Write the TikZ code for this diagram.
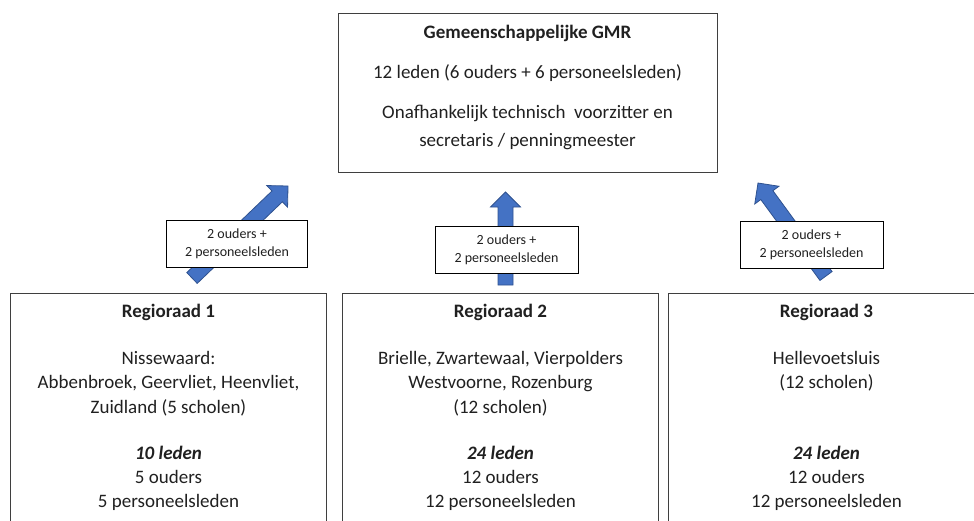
\documentclass[tikz,border=0pt]{standalone}
\usepackage{fontspec}
\setmainfont{Carlito}
\usetikzlibrary{calc,positioning}

\definecolor{randgrijs}{HTML}{3F3F3F}
\definecolor{tekstgrijs}{HTML}{202020}
\definecolor{pijlblauw}{HTML}{4472C4}
\definecolor{pijlrand}{HTML}{2F528F}

\newcommand{\raadfont}{\fontsize{19}{24.3}\selectfont}
\newcommand{\gmrfont}{\fontsize{19}{28}\selectfont}
\newcommand{\afvfont}{\fontsize{14}{18}\selectfont}

\begin{document}
\begin{tikzpicture}[x=1pt,y=-1pt,
  vak/.style={draw=randgrijs,line width=1pt,anchor=north,inner sep=0pt},
  raad/.style={vak,minimum width=316pt,minimum height=260pt},
  tekstblok/.style={align=center,anchor=north,inner sep=0pt,text=tekstgrijs},
  afvaardiging/.style={draw=black,line width=0.8pt,fill=white,font=\afvfont,
    align=center,minimum width=143pt,minimum height=47pt,inner sep=0pt,text=tekstgrijs},
  pijl/.style={draw=pijlrand,fill=pijlblauw,line width=0.8pt,line join=miter}]
\useasboundingbox (0,0) rectangle (974,520);
\clip (0,0) rectangle (974,520);

%: \blokpijl{<staart>}{<punt>}
\newcommand{\blokpijl}[2]{%
  \coordinate (kop) at ($(#2)!15pt!(#1)$);
  \filldraw[pijl] ($(#1)!7.5pt!-90:(#2)$) -- ($(kop)!7.5pt!90:(#1)$)
   -- ($(kop)!15pt!90:(#1)$) -- (#2) -- ($(kop)!15pt!-90:(#1)$)
   -- ($(kop)!7.5pt!-90:(#1)$) -- ($(#1)!7.5pt!90:(#2)$) -- cycle;}

% bovenste vak
\node[vak,minimum width=379pt,minimum height=159pt] (gmr) at (527.5,13) {};
\node[tekstblok,font=\gmrfont,below=11.5pt of gmr.north] (gmrtekst)
  {\textbf{Gemeenschappelijke GMR}\\[12pt]
   12 leden (6 ouders + 6 personeelsleden)\\[12pt]
   Onafhankelijk technisch~ voorzitter en\\
   secretaris / penningmeester};

% regioraden
\node[raad] (regio1) at (168.5,293) {};
\node[raad] (regio2) at (500.5,293) {};
\node[raad] (regio3) at (826.5,293) {};

\node[tekstblok,font=\raadfont,below=11pt of regio1.north] (regio1tekst)
  {\textbf{Regioraad 1}\\[22.7pt]
   Nissewaard:\\
   Abbenbroek, Geervliet, Heenvliet,\\
   Zuidland (5 scholen)\\[21.7pt]
   \textbf{\textit{10 leden}}\\
   5 ouders\\
   5 personeelsleden};
\node[tekstblok,font=\raadfont,below=11pt of regio2.north] (regio2tekst)
  {\textbf{Regioraad 2}\\[22.7pt]
   Brielle, Zwartewaal, Vierpolders\\
   Westvoorne, Rozenburg\\
   (12 scholen)\\[21.7pt]
   \textbf{\textit{24 leden}}\\
   12 ouders\\
   12 personeelsleden};
\node[tekstblok,font=\raadfont,below=11pt of regio3.north] (regio3tekst)
  {\textbf{Regioraad 3}\\[22.7pt]
   Hellevoetsluis\\
   (12 scholen)\\[46pt]
   \textbf{\textit{24 leden}}\\
   12 ouders\\
   12 personeelsleden};

% pijlen naar de GMR
\coordinate (staart1) at (192,278);
\coordinate (punt1) at (288,186);
\coordinate (staart2) at (505.5,285);
\coordinate (punt2) at (505.5,192);
\coordinate (staart3) at (826,276);
\coordinate (punt3) at (758,183);
\blokpijl{staart1}{punt1}
\blokpijl{staart2}{punt2}
\blokpijl{staart3}{punt3}

\node[afvaardiging,minimum width=141pt] (afv1) at (237,244) {2 ouders +\\2 personeelsleden};
\node[afvaardiging] (afv2) at (506.5,249.5) {2 ouders +\\2 personeelsleden};
\node[afvaardiging] (afv3) at (811.5,245) {2 ouders +\\2 personeelsleden};
\end{tikzpicture}
\end{document}
